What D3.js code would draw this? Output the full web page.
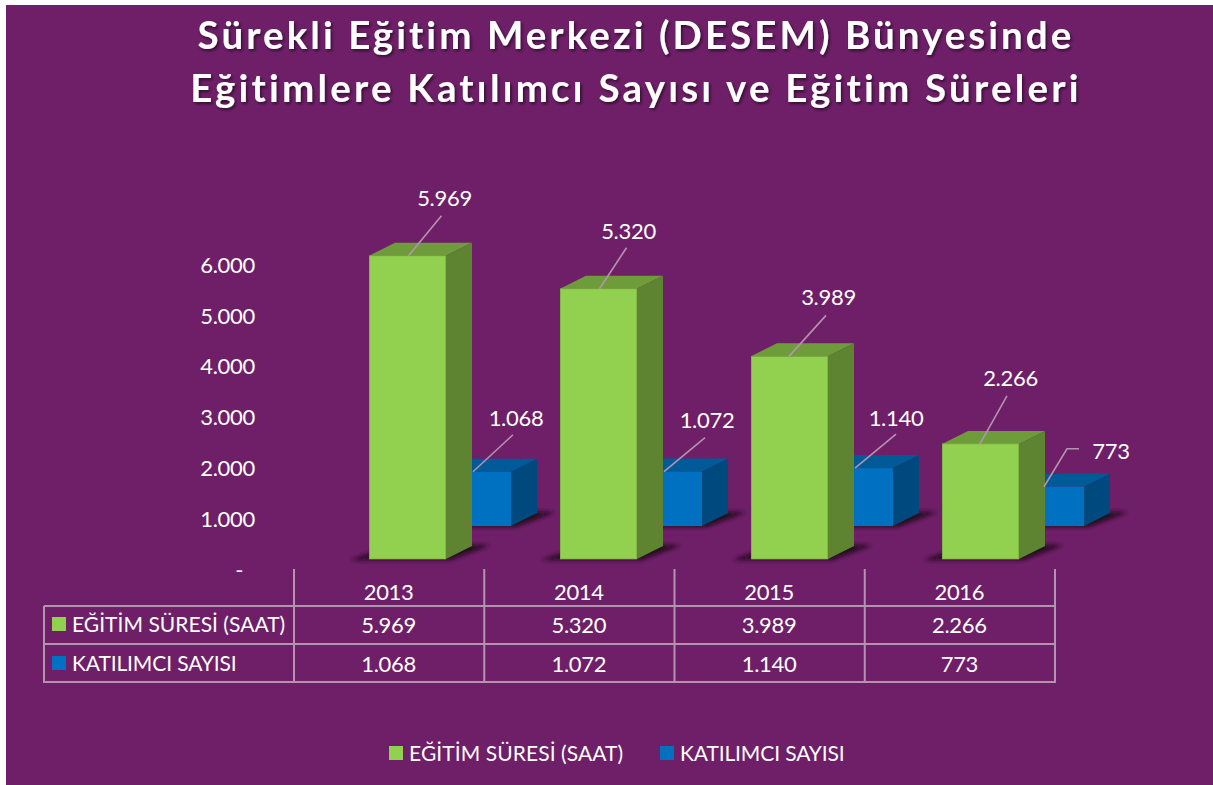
<!DOCTYPE html>
<html><head><meta charset="utf-8">
<style>
html,body{margin:0;padding:0;background:#fff;}
svg{display:block;font-family:Lato,"Open Sans",sans-serif;}
</style>
<script src="https://cdnjs.cloudflare.com/ajax/libs/d3/7.8.5/d3.min.js"></script>
</head><body><svg id="c" width="1213" height="785"></svg>
<script>
const categories = ["2013","2014","2015","2016"];
const seriesNames = ["EĞİTİM SÜRESİ (SAAT)","KATILIMCI SAYISI"];
const egitimSuresi = [5969,5320,3989,2266];
const katilimci = [1068,1072,1140,773];
const yTicks = [0,1000,2000,3000,4000,5000,6000];
const titleLines = ["Sürekli Eğitim Merkezi (DESEM) Bünyesinde","Eğitimlere Katılımcı Sayısı ve Eğitim Süreleri"];

const svg = d3.select("#c");
const fmt = v => d3.format(",")(v).replace(/,/g,".");
const col = {bg:"#6e1f68",g:"#92d050",gs:"#5f8431",gt:"#6f9c3b",gb:"#7aad3e",b:"#0070c0",bs:"#00497e",bt:"#005a98",line:"#b394b0",text:"#fff"};

const defs = svg.append("defs");
defs.append("filter").attr("id","blur").attr("x","-20%").attr("y","-50%").attr("width","140%").attr("height","200%")
  .append("feGaussianBlur").attr("stdDeviation",2.2);
const ts = defs.append("filter").attr("id","ts").attr("x","-5%").attr("y","-20%").attr("width","110%").attr("height","150%");
ts.append("feDropShadow").attr("dx",1.5).attr("dy",2).attr("stdDeviation",1.5).attr("flood-color","#000").attr("flood-opacity",.55);

svg.append("rect").attr("x",6).attr("y",5).attr("width",1207).attr("height",780).attr("fill",col.bg);

// Title
svg.append("g").attr("filter","url(#ts)").selectAll("text").data(titleLines).join("text")
  .attr("x",636).attr("y",(d,i)=>49+i*53).attr("text-anchor","middle")
  .attr("font-size",38.5).attr("font-weight",700).attr("letter-spacing",(d,i)=>i?3.2:3.05).attr("fill",col.text).text(d=>d);

// Scales
const yH = d3.scaleLinear().domain([0,6000]).range([0,304.8]);      // bar height
const yAxisScale = d3.scaleLinear().domain([0,6000]).range([570,265.2]);
const xBar = d3.scalePoint().domain(categories).range([369,942]);   // front-left of green bar
const xTab = d3.scaleBand().domain(categories).range([294,1055]);
const W = 77, DX = 26, DY = 13, GREEN_BASE = 559, BLUE_BASE = 526, BLUE_SHIFT = 65;

function box(g, x, base, h, c){
  const top = base - h;
  g.append("polygon").attr("filter","url(#blur)").attr("fill","#23071f")
    .attr("points",[[x-19,base+1],[x+W+4,base+1],[x+W+44,base-14],[x+W-50,base-14]].join(" "));
  g.append("polygon").attr("fill",c.top).attr("points",[[x,top],[x+DX,top-DY],[x+W+DX,top-DY],[x+W,top]].join(" "));
  g.append("polygon").attr("fill",c.side).attr("points",[[x+W,top],[x+W+DX,top-DY],[x+W+DX,base-DY],[x+W,base]].join(" "));
  g.append("rect").attr("x",x).attr("y",top).attr("width",W).attr("height",h).attr("fill",c.front);
}
const blueC = {front:col.b,side:col.bs,top:col.bt}, greenC = {front:col.g,side:col.gs,top:col.gt};
const bars = svg.append("g");
categories.forEach((c,i)=>box(bars.append("g"), xBar(c)+BLUE_SHIFT, BLUE_BASE, yH(katilimci[i]), blueC));
categories.forEach((c,i)=>{
  const g = bars.append("g");
  box(g, xBar(c), GREEN_BASE, yH(egitimSuresi[i]), greenC);
  g.append("rect").attr("x",xBar(c)+.5).attr("y",GREEN_BASE-yH(egitimSuresi[i])).attr("width",W-1).attr("height",yH(egitimSuresi[i]))
    .attr("fill","none").attr("stroke",col.gb).attr("stroke-width",1).attr("stroke-opacity",.7);
});

// Y axis
const axis = d3.axisLeft(yAxisScale).tickValues(yTicks).tickSize(0).tickPadding(0).tickFormat(v=>v===0?"-":fmt(v));
const ag = svg.append("g").attr("transform","translate(255,0)").call(axis);
ag.select(".domain").remove();
ag.selectAll("text").attr("font-size",22).attr("letter-spacing",-.3).attr("font-family","Lato").attr("fill",col.text)
  .attr("dx",d=>d===0?-12:0);

// Leaders and data labels
const text = (sel,x,y,t,size=22,anchor="middle",ls=-.3) => sel.append("text").attr("x",x).attr("y",y).attr("dy","0.36em")
  .attr("text-anchor",anchor).attr("font-size",size).attr("letter-spacing",ls).attr("fill",col.text).text(t);
const leaderOff = [[[1,0],[34,-40]],[[1,0],[28,-41]],[[-.5,0],[36.5,-41]],[[-.5,0],[26.5,-48]]];
const labelOff  = [[37,-58],[30,-58],[39,-59],[30,-66]];
const leaderOffB = [[[39,0],[79,-37]],[[39,0],[80,-34]],[[39,0],[80,-34]],[[37,0],[60,-38],[72,-38]]];
const labelOffB = [[82,-54],[82,-51],[80,-50],[104,-36]];
const lab = svg.append("g");
categories.forEach((c,i)=>{
  const ax = xBar(c)+W/2, ay = GREEN_BASE-yH(egitimSuresi[i]);
  lab.append("path").attr("fill","none").attr("stroke",col.line).attr("stroke-width",1.6)
    .attr("d",d3.line()(leaderOff[i].map(p=>[ax+p[0],ay+p[1]])));
  text(lab,ax+labelOff[i][0],ay+labelOff[i][1],fmt(egitimSuresi[i]));
  const bx = xBar(c)+BLUE_SHIFT, by = BLUE_BASE-yH(katilimci[i]);
  lab.append("path").attr("fill","none").attr("stroke",col.line).attr("stroke-width",1.6)
    .attr("d",d3.line()(leaderOffB[i].map(p=>[bx+p[0],by+p[1]])));
  text(lab,bx+labelOffB[i][0],by+labelOffB[i][1],fmt(katilimci[i]));
});

// Data table
const tb = svg.append("g").attr("stroke",col.line).attr("stroke-width",2).attr("fill","none");
[606,644,682].forEach(y=>tb.append("line").attr("x1",44).attr("x2",1055).attr("y1",y).attr("y2",y));
tb.append("line").attr("x1",44).attr("x2",44).attr("y1",606).attr("y2",683);
[...categories.map(c=>xTab(c)),1055].forEach(x=>tb.append("line").attr("x1",x).attr("x2",x).attr("y1",569).attr("y2",683));
const tt = svg.append("g");
categories.forEach((c,i)=>{
  const cx = xTab(c)+xTab.bandwidth()/2 - .5;
  text(tt,cx,592,c);
  text(tt,cx,625,fmt(egitimSuresi[i]));
  text(tt,cx,664,fmt(katilimci[i]));
});
[[624,col.g],[663,col.b]].forEach((r,i)=>{
  tt.append("rect").attr("x",52).attr("y",r[0]-7).attr("width",14).attr("height",14).attr("fill",r[1]);
  text(tt,72,r[0],seriesNames[i],21,"start",i===0?0.03:-.12);
});

// Legend
const lg = svg.append("g");
[[389,col.g],[660,col.b]].forEach((r,i)=>{
  lg.append("rect").attr("x",r[0]).attr("y",746).attr("width",14).attr("height",14).attr("fill",r[1]);
  text(lg,r[0]+20,753,seriesNames[i],21,"start",i===0?0.08:-.12);
});
</script></body></html>
